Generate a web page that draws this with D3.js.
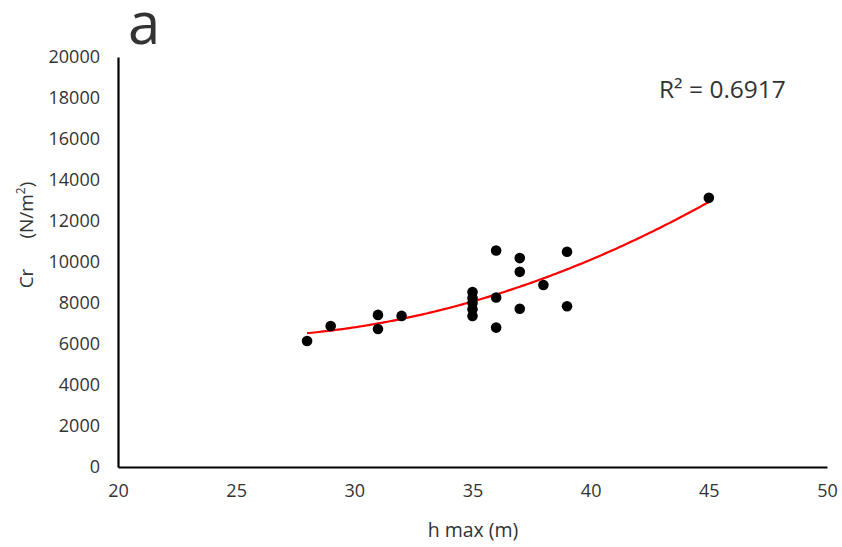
<!DOCTYPE html>
<html><head><meta charset="utf-8">
<script src="https://cdn.jsdelivr.net/npm/d3@7"></script>
<style>body{margin:0;background:#fff}text{font-family:"Open Sans",sans-serif;fill:#333}</style>
</head><body>
<svg id="c" width="842" height="547"></svg>
<script>
const hMax = [28,29,31,31,32,35,35,35,35,35,36,36,36,37,37,37,38,39,39,45];
const cr   = [6150,6880,7420,6730,7370,8540,8250,8000,7700,7370,10560,8270,6800,10190,9520,7720,8880,10500,7840,13130];
const xTicks = [20,25,30,35,40,45,50];
const yTicks = [0,2000,4000,6000,8000,10000,12000,14000,16000,18000,20000];
const r2Label = "R² = 0.6917";

const svg = d3.select("#c");
const x = d3.scaleLinear().domain([20,50]).range([118,827]);
const y = d3.scaleLinear().domain([0,20000]).range([467,57]);

// quadratic least squares fit (Excel polynomial trendline, order 2)
function quadFit(xs, ys){
  let S=[0,0,0,0,0], T=[0,0,0];
  xs.forEach((xv,i)=>{const p=[1,xv,xv*xv,xv**3,xv**4];for(let k=0;k<5;k++)S[k]+=p[k];for(let k=0;k<3;k++)T[k]+=ys[i]*p[k];});
  const A=[[S[0],S[1],S[2],T[0]],[S[1],S[2],S[3],T[1]],[S[2],S[3],S[4],T[2]]];
  for(let i=0;i<3;i++){for(let j=i+1;j<3;j++){const f=A[j][i]/A[i][i];for(let k=i;k<4;k++)A[j][k]-=f*A[i][k];}}
  const c=[0,0,0];
  for(let i=2;i>=0;i--){let s=A[i][3];for(let k=i+1;k<3;k++)s-=A[i][k]*c[k];c[i]=s/A[i][i];}
  return c;
}
const coef = quadFit(hMax, cr);
const xs = d3.range(d3.min(hMax), d3.max(hMax)+0.001, 0.1);
const line = d3.line().x(d=>x(d)).y(d=>y(coef[0]+coef[1]*d+coef[2]*d*d));
svg.append("path").attr("d", line(xs)).attr("fill","none").attr("stroke","#ff0000").attr("stroke-width",2.2);

svg.append("g").selectAll("circle").data(hMax).join("circle")
  .attr("cx",(d)=>x(d)).attr("cy",(d,i)=>y(cr[i])).attr("r",5.3).attr("fill","#000");

const xAxis = svg.append("g").attr("transform","translate(0,467)")
  .call(d3.axisBottom(x).tickValues(xTicks).tickSize(0).tickPadding(17).tickFormat(d3.format("d")));
xAxis.select(".domain").attr("stroke","#000").attr("stroke-width",2.2);
xAxis.selectAll("text").style("font-size","18px").attr("fill","#333");

const yAxis = svg.append("g").attr("transform","translate(118,0)")
  .call(d3.axisLeft(y).tickValues(yTicks).tickSize(0).tickPadding(18).tickFormat(d3.format("d")));
yAxis.select(".domain").attr("stroke","#000").attr("stroke-width",2.2);
yAxis.selectAll("text").style("font-size","18px").attr("fill","#333");

svg.append("text").attr("x",473).attr("y",537).attr("text-anchor","middle").style("font-size","19.5px").text("h max (m)");
const yt = svg.append("text").attr("transform","translate(33,235) rotate(-90)").attr("text-anchor","middle").style("font-size","19px");
yt.append("tspan").text("Cr");
yt.append("tspan").text("(N/m").attr("dx",30);
yt.append("tspan").text("2").attr("dy",-8).style("font-size","12px");
yt.append("tspan").text(")").attr("dy",8);

svg.append("text").attr("x",659).attr("y",98).style("font-size","24.5px").text(r2Label);
svg.append("text").attr("x",128).attr("y",44).style("font-size","58px").attr("fill","#000").text("a");
</script>
</body></html>
